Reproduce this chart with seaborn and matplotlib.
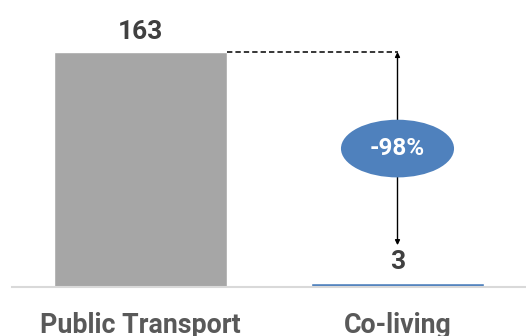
import matplotlib
matplotlib.use("Agg")
import matplotlib.pyplot as plt
from matplotlib.patches import Ellipse
import pandas as pd
import seaborn as sns

categories = ["Public Transport", "Co-living"]
values = [163, 3]
bar_colors = ["#A6A6A6", "#4F81BD"]
change_label = "-98%"

sns.set_theme(style="white")
plt.rcParams["font.family"] = ["Roboto", "DejaVu Sans"]

df = pd.DataFrame({"category": categories, "value": values})

fig = plt.figure(figsize=(5.26, 3.36), dpi=100)
ax = fig.add_axes([12 / 526, 49 / 336, 514 / 526, 274 / 336])

sns.barplot(data=df, x="category", y="value", hue="category",
            palette=bar_colors, width=0.673, legend=False, ax=ax,
            saturation=1)

ax.set_xlim(-0.5, 1.5)
ax.set_ylim(0, 190)
ax.set_xlabel("")
ax.set_ylabel("")
ax.set_yticks([])
for s in ["top", "right", "left"]:
    ax.spines[s].set_visible(False)
ax.spines["bottom"].set_color("#D9D9D9")
ax.spines["bottom"].set_linewidth(1.5)
ax.tick_params(axis="x", length=0, pad=18)
for lbl in ax.get_xticklabels():
    lbl.set_fontsize(19.3)
    lbl.set_fontweight("bold")
    lbl.set_color("#595959")

# value labels
for i, v in enumerate(values):
    ax.annotate(str(v), (i, v), xytext=(0, 6), textcoords="offset points",
                ha="center", va="bottom", fontsize=19, fontweight="bold",
                color="#404040")

# dashed connector from first bar top to second bar centre
half_w = 0.673 / 2
ax.plot([half_w, 1], [values[0], values[0]], ls=(0, (3.5, 2)), color="black",
        lw=1.1)

# double-headed arrow
arrow_bottom = values[1] + 26
ax.annotate("", xy=(1, arrow_bottom), xytext=(1, values[0]),
            arrowprops=dict(arrowstyle="<|-|>", color="black", lw=1,
                            mutation_scale=7, shrinkA=0, shrinkB=0))

# ellipse with change label
mid = (values[0] + arrow_bottom) / 2
ax.add_patch(Ellipse((1, mid), 0.44, 40, facecolor="#4F81BD",
                     edgecolor="none", zorder=5))
ax.text(1, mid, change_label, ha="center", va="center", fontsize=17.5,
        fontweight="bold", color="white", zorder=6)

fig.savefig("out.png", dpi=100)
